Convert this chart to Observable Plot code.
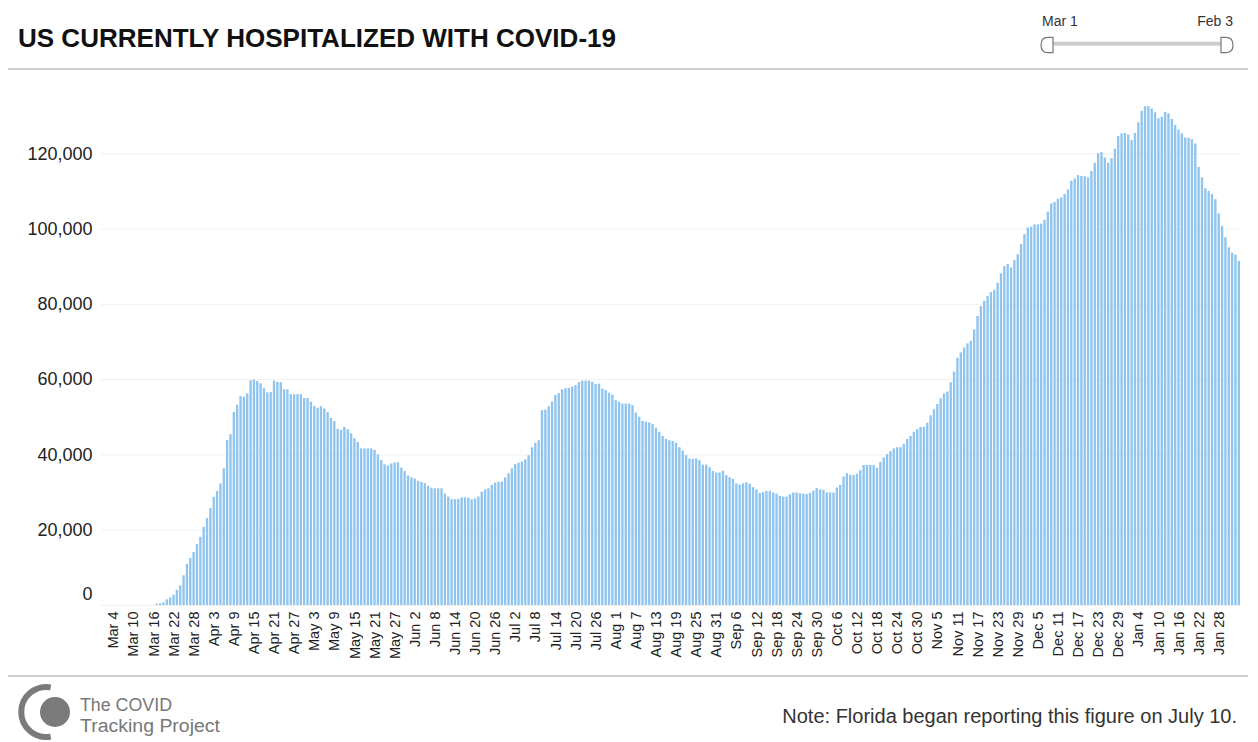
<!DOCTYPE html>
<html>
<head>
<meta charset="utf-8">
<script src="https://cdn.jsdelivr.net/npm/d3@7"></script>
<script src="https://cdn.jsdelivr.net/npm/@observablehq/plot@0.6"></script>
<style>
  html, body { margin: 0; padding: 0; background: #fff; }
  #page { position: relative; width: 1258px; height: 742px; overflow: hidden; font-family: "Liberation Sans", Arial, Helvetica, sans-serif; }
  .abs { position: absolute; }
  #chart { position: absolute; left: 0; top: 70px; }
  .hr { position: absolute; left: 8px; width: 1240px; height: 2px; background: #cfcfcf; }
</style>
</head>
<body>
<div id="page">
  <svg class="abs" style="left:0;top:0" width="700" height="60">
    <text x="18" y="47" font-family="Liberation Sans, Arial, sans-serif" font-weight="bold" font-size="26" fill="#111" textLength="598" lengthAdjust="spacingAndGlyphs">US CURRENTLY HOSPITALIZED WITH COVID-19</text>
  </svg>
  <svg class="abs" style="left:1030px;top:0" width="220" height="60">
    <text x="12" y="26" font-size="14" fill="#333" font-family="Liberation Sans, Arial, sans-serif">Mar 1</text>
    <text x="203" y="26" font-size="14" fill="#333" text-anchor="end" font-family="Liberation Sans, Arial, sans-serif">Feb 3</text>
    <rect x="18" y="41.7" width="180" height="4" fill="#cccccc"/>
    <path d="M23,37.3 L18,37.3 Q11,37.3 11,45 Q11,52.7 18,52.7 L23,52.7 Z" fill="#fff" stroke="#777" stroke-width="1.2"/>
    <path d="M191,37.3 L196,37.3 Q203,37.3 203,45 Q203,52.7 196,52.7 L191,52.7 Z" fill="#fff" stroke="#777" stroke-width="1.2"/>
  </svg>
  <div class="hr" style="top:68px"></div>
  <div id="chart"></div>
  <div class="hr" style="top:675px"></div>
  <svg class="abs" style="left:0;top:680px" width="260" height="62">
    <circle cx="55" cy="32" r="15" fill="#7a7a7a"/>
    <path d="M50.7,7.4 A25,25 0 1 0 50.7,56.6" fill="none" stroke="#7a7a7a" stroke-width="6"/>
    <text x="80" y="31" font-size="18" fill="#777" font-family="Liberation Sans, Arial, sans-serif" textLength="92" lengthAdjust="spacingAndGlyphs">The COVID</text>
    <text x="80" y="52" font-size="18" fill="#777" font-family="Liberation Sans, Arial, sans-serif" textLength="140" lengthAdjust="spacingAndGlyphs">Tracking Project</text>
  </svg>
  <div class="abs" style="right:21px;top:705px;font-size:20px;color:#333;">Note: Florida began reporting this figure on July 10.</div>
</div>
<script>
// Daily dates Mar 1, 2020 – Feb 3, 2021
const startDate = "2020-03-01";
const endDate = "2021-02-04";

// US currently hospitalized, one value per day, rows of 10 days
const hospitalized = [
  0,0,0,0,0,0,0,0,0,0,
  0,0,0,0,0,0,325,450,700,1500,
  2000,2700,4000,5200,7900,10900,12500,14100,16200,18100,
  20800,23100,25750,28750,30300,32300,36300,43800,45400,51300,
  53200,55500,55300,56200,59700,59900,59500,58900,57600,56500,
  56600,59600,59300,59200,57300,57300,56000,56000,56000,56000,
  55000,55000,54000,52900,52400,52800,52200,51300,49700,48900,
  46800,46500,47300,46700,45600,44300,43300,41600,41600,41600,
  41600,41200,40000,38500,37400,37100,37600,37900,37900,36500,
  35600,34400,33900,33600,33000,32700,32400,31700,31200,31000,
  31000,31000,29600,28800,28100,28100,28200,28600,28600,28500,
  28100,28300,28800,30100,30700,31000,31900,32500,32700,32800,
  33900,35000,36300,37400,37800,38100,38700,39800,41900,43100,
  43800,51800,51900,52800,54100,55800,56300,57300,57600,57700,
  58000,58400,59200,59600,59600,59600,59300,58700,58800,57500,
  57100,56400,55900,54400,54000,53500,53500,53500,53100,51100,
  50000,48900,48700,48500,48100,47100,46000,44900,44100,43800,
  43600,43100,41900,41000,39800,38900,38800,38900,38500,37300,
  37300,36600,35600,35200,35200,35700,34500,33900,33500,32300,
  32000,32300,32600,32200,31300,30700,29800,30000,30300,30300,
  29900,29600,29000,28800,28800,29400,29900,29900,29700,29600,
  29500,29800,30400,31100,30700,30600,29900,29900,29900,31200,
  31900,34100,35000,34600,34500,34900,35800,37200,37200,37200,
  37200,36500,38000,39200,40100,40900,41600,41900,41900,42800,
  44100,44900,46000,46700,47300,47300,48400,50400,52000,53400,
  54900,56200,56700,59200,62000,65700,67100,68400,69500,70200,
  73200,76800,79400,80800,82100,83100,83700,85600,88100,90000,
  90600,89700,91600,93200,95900,98500,100300,100500,101100,101100,
  101300,102300,104500,106700,107100,107900,108300,109200,110400,112700,
  113300,114200,114000,113900,113600,115300,117500,120000,120300,118900,
  117500,118700,121200,124600,125300,125400,125000,123500,125400,128200,
  131300,132500,132500,131900,130900,129300,129700,131000,130600,129100,
  127500,126300,125300,124200,124100,123800,122600,116400,113600,110700,
  110000,109200,107800,104000,100700,97700,95000,93600,93100,91400
];

const xTickLabels = [
  "Mar 4","Mar 10","Mar 16","Mar 22","Mar 28","Apr 3","Apr 9","Apr 15","Apr 21","Apr 27",
  "May 3","May 9","May 15","May 21","May 27","Jun 2","Jun 8","Jun 14","Jun 20","Jun 26",
  "Jul 2","Jul 8","Jul 14","Jul 20","Jul 26","Aug 1","Aug 7","Aug 13","Aug 19","Aug 25",
  "Aug 31","Sep 6","Sep 12","Sep 18","Sep 24","Sep 30","Oct 6","Oct 12","Oct 18","Oct 24",
  "Oct 30","Nov 5","Nov 11","Nov 17","Nov 23","Nov 29","Dec 5","Dec 11","Dec 17","Dec 23",
  "Dec 29","Jan 4","Jan 10","Jan 16","Jan 22","Jan 28"
];
const yTicks = [20000, 40000, 60000, 80000, 100000, 120000];

const fmtDay = d3.utcFormat("%b %-d");
const days = d3.utcDay.range(new Date(startDate), new Date(endDate)).map(fmtDay);
const data = days.map((day, i) => ({day, value: hospitalized[i]}));

const chart = Plot.plot({
  width: 1258,
  height: 606,
  marginLeft: 101,
  marginRight: 17,
  marginTop: 8,
  marginBottom: 71,
  style: {fontFamily: "Liberation Sans, Arial, Helvetica, sans-serif", background: "#fff", color: "#222", overflow: "visible"},
  x: {type: "band", domain: days, padding: 0.3, label: null},
  y: {domain: [0, 140000], label: null},
  marks: [
    Plot.gridY(yTicks.concat([0]), {stroke: "#f0f0f0", strokeOpacity: 1}),
    Plot.barY(data, {x: "day", y: "value", fill: "#8fc4ee"}),
    Plot.axisY(yTicks, {tickSize: 0, tickPadding: 9, tickFormat: d3.format(","), fontSize: 18, label: null}),
    Plot.axisY([0], {tickSize: 0, tickPadding: 9, tickFormat: d3.format(","), fontSize: 18, dy: -11, label: null}),
    Plot.axisX(xTickLabels, {tickSize: 0, tickPadding: 6, tickRotate: -90, fontSize: 14.5, label: null})
  ]
});
document.getElementById("chart").appendChild(chart);
</script>
</body>
</html>
